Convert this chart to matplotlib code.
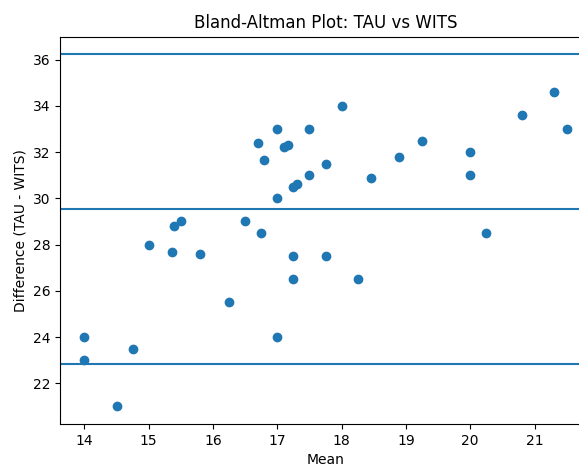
import matplotlib
matplotlib.use("Agg")
import matplotlib.pyplot as plt

mean_vals = [14.0, 14.0, 14.5, 14.75, 15.0, 15.36, 15.4, 15.5, 15.8, 16.25,
             16.5, 16.7, 16.75, 16.8, 17.0, 17.0, 17.0, 17.11, 17.16, 17.25,
             17.31, 17.25, 17.25, 17.5, 17.5, 17.75, 17.75, 18.0, 18.25, 18.45,
             18.9, 19.25, 20.0, 20.0, 20.25, 20.8, 21.3, 21.5]
diff_vals = [24.0, 23.0, 21.0, 23.5, 28.0, 27.7, 28.8, 29.0, 27.6, 25.5,
             29.0, 32.4, 28.5, 31.65, 33.0, 30.0, 24.0, 32.2, 32.3, 30.5,
             30.6, 27.5, 26.5, 33.0, 31.0, 31.5, 27.5, 34.0, 26.5, 30.9,
             31.8, 32.5, 32.0, 31.0, 28.5, 33.6, 34.6, 33.0]

mean_diff = 29.54
loa_upper = 36.23
loa_lower = 22.84

fig = plt.figure(figsize=(5.79, 4.68), dpi=100)
ax = fig.add_axes([60.3 / 579, 44 / 468, 530.5 / 579, 387.3 / 468])
ax.scatter(mean_vals, diff_vals)
ax.axhline(mean_diff)
ax.axhline(loa_upper)
ax.axhline(loa_lower)
ax.set_title("Bland-Altman Plot: TAU vs WITS")
ax.set_xlabel("Mean")
ax.set_ylabel("Difference (TAU - WITS)")
fig.savefig("out.png", dpi=100)
